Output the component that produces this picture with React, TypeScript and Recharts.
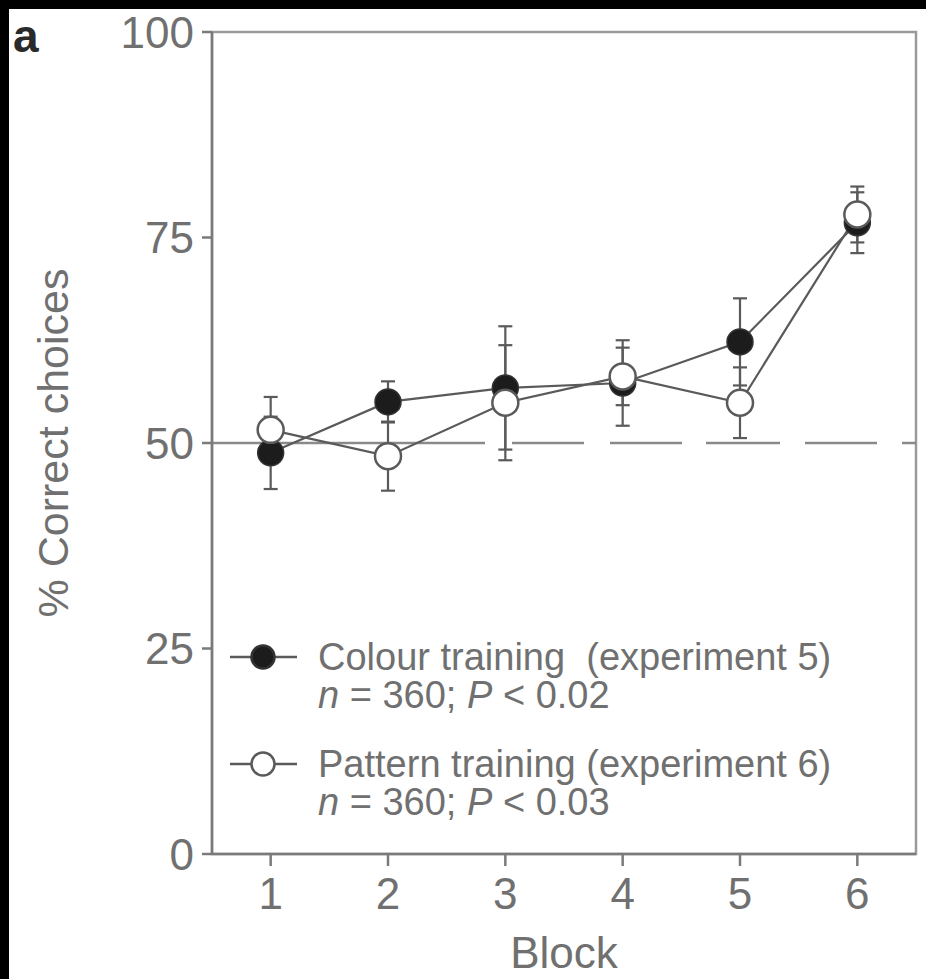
import React from "react";
import {
	LineChart,
	Line,
	XAxis,
	YAxis,
	ErrorBar,
	ReferenceLine,
	ReferenceArea,
	Legend,
} from "recharts";

const blocks = [1, 2, 3, 4, 5, 6];
const colourValues = [48.8, 55.0, 56.7, 57.3, 62.3, 76.8];
const colourErrors = [4.4, 2.5, 7.5, 5.2, 5.3, 3.7];
const patternValues = [51.6, 48.4, 54.9, 58.1, 54.9, 77.8];
const patternErrors = [4.0, 4.2, 7.0, 3.5, 4.3, 3.4];
const yTicks = [0, 25, 50, 75, 100];
const seriesNames = ["Colour training  (experiment 5)", "Pattern training (experiment 6)"];
const seriesN = ["360", "360"];
const seriesP = ["0.02", "0.03"];
const chanceLevel = 50;

const data = blocks.map((block, i) => ({
	block,
	colour: colourValues[i],
	colourErr: colourErrors[i],
	pattern: patternValues[i],
	patternErr: patternErrors[i],
}));

const FONT = "'Liberation Sans', Arial, Helvetica, sans-serif";
const GREY = "#707070";
const LINE = "#5a5a5a";
const dotFills = ["#1c1c1c", "#ffffff"];

// legend drawn by hand: marker + two lines of text per series
const renderLegend = () => (
	<svg width={660} height={200} style={{ display: "block", overflow: "visible" }}>
		{seriesNames.map((name, i) => {
			const y0 = 27 + i * 107;
			return (
				<g key={name} fontFamily={FONT} fill={GREY} fontSize={38}>
					<line x1={5} x2={72} y1={y0} y2={y0} stroke={LINE} strokeWidth={2.5} />
					<circle cx={38} cy={y0} r={11.5} fill={dotFills[i]} stroke={i === 0 ? "#333" : LINE} strokeWidth={2.5} />
					<text x={93} y={y0 + 13} style={{ whiteSpace: "pre" }}>
						{name}
					</text>
					<text x={93} y={y0 + 51} style={{ whiteSpace: "pre" }}>
						<tspan fontStyle="italic">n</tspan>
						{` = ${seriesN[i]}; `}
						<tspan fontStyle="italic">P</tspan>
						{` < ${seriesP[i]}`}
					</text>
				</g>
			);
		})}
	</svg>
);

export default function App() {
	return (
		<div style={{ position: "fixed", inset: 0, background: "#000" }}>
			<div style={{ position: "absolute", left: 9, top: 9, right: 0, bottom: 0, background: "#fff" }} />
			<div
				style={{
					position: "absolute",
					left: 13,
					top: 13,
					fontFamily: FONT,
					fontWeight: "bold",
					fontSize: 46,
					lineHeight: 1,
					color: "#2a2a2a",
				}}
			>
				a
			</div>
			<div style={{ position: "absolute", left: 0, top: 0 }}>
				<LineChart width={926} height={979} data={data} margin={{ top: 32, right: 10, left: 0, bottom: 0 }}>
					<ReferenceArea x1={0.5} x2={6.5} y1={0} y2={100} fill="none" stroke="#9a9a9a" strokeWidth={2.5} />
					<ReferenceLine
						y={chanceLevel}
						stroke="#8a8a8a"
						strokeWidth={2.5}
						strokeDasharray="273 27 72 26 72 24 74 25 72 25"
					/>
					<XAxis
						dataKey="block"
						type="number"
						domain={[0.5, 6.5]}
						ticks={blocks}
						height={125}
						tickSize={12}
						tickMargin={12}
						axisLine={{ stroke: "#7a7a7a", strokeWidth: 2.5 }}
						tickLine={{ stroke: "#7a7a7a", strokeWidth: 2.5 }}
						tick={{ fontSize: 44, fill: GREY, fontFamily: FONT }}
						label={{
							content: ({ viewBox }: any) => (
								<text
									x={viewBox.x + viewBox.width / 2}
									y={viewBox.y + 114}
									textAnchor="middle"
									fontSize={44}
									fill={GREY}
									fontFamily={FONT}
								>
									Block
								</text>
							),
						}}
					/>
					<YAxis
						type="number"
						domain={[0, 100]}
						ticks={yTicks}
						width={212}
						tickSize={10}
						tickMargin={8}
						axisLine={{ stroke: "#7a7a7a", strokeWidth: 2.5 }}
						tickLine={{ stroke: "#7a7a7a", strokeWidth: 2.5 }}
						tick={{ fontSize: 44, fill: GREY, fontFamily: FONT }}
						label={{
							content: ({ viewBox }: any) => {
								const cx = 68;
								const cy = viewBox.y + viewBox.height / 2;
								return (
									<text
										x={cx}
										y={cy}
										transform={`rotate(-90 ${cx} ${cy})`}
										textAnchor="middle"
										fontSize={43}
										fill={GREY}
										fontFamily={FONT}
									>
										% Correct choices
									</text>
								);
							},
						}}
					/>
					<Legend
						layout="vertical"
						align="center"
						verticalAlign="middle"
						content={renderLegend}
						wrapperStyle={{ position: "absolute", left: 225, top: 630, width: 660 }}
					/>
					<Line
						type="linear"
						dataKey="colour"
						name={seriesNames[0]}
						stroke={LINE}
						strokeWidth={2.2}
						dot={{ r: 13, fill: dotFills[0], stroke: "#333", strokeWidth: 1.5 }}
						activeDot={false}
						isAnimationActive={false}
					>
						<ErrorBar dataKey="colourErr" direction="y" width={7} stroke={LINE} strokeWidth={2.2} />
					</Line>
					<Line
						type="linear"
						dataKey="pattern"
						name={seriesNames[1]}
						stroke={LINE}
						strokeWidth={2.2}
						dot={{ r: 13, fill: dotFills[1], stroke: LINE, strokeWidth: 2.5 }}
						activeDot={false}
						isAnimationActive={false}
					>
						<ErrorBar dataKey="patternErr" direction="y" width={7} stroke={LINE} strokeWidth={2.2} />
					</Line>
				</LineChart>
			</div>
		</div>
	);
}
